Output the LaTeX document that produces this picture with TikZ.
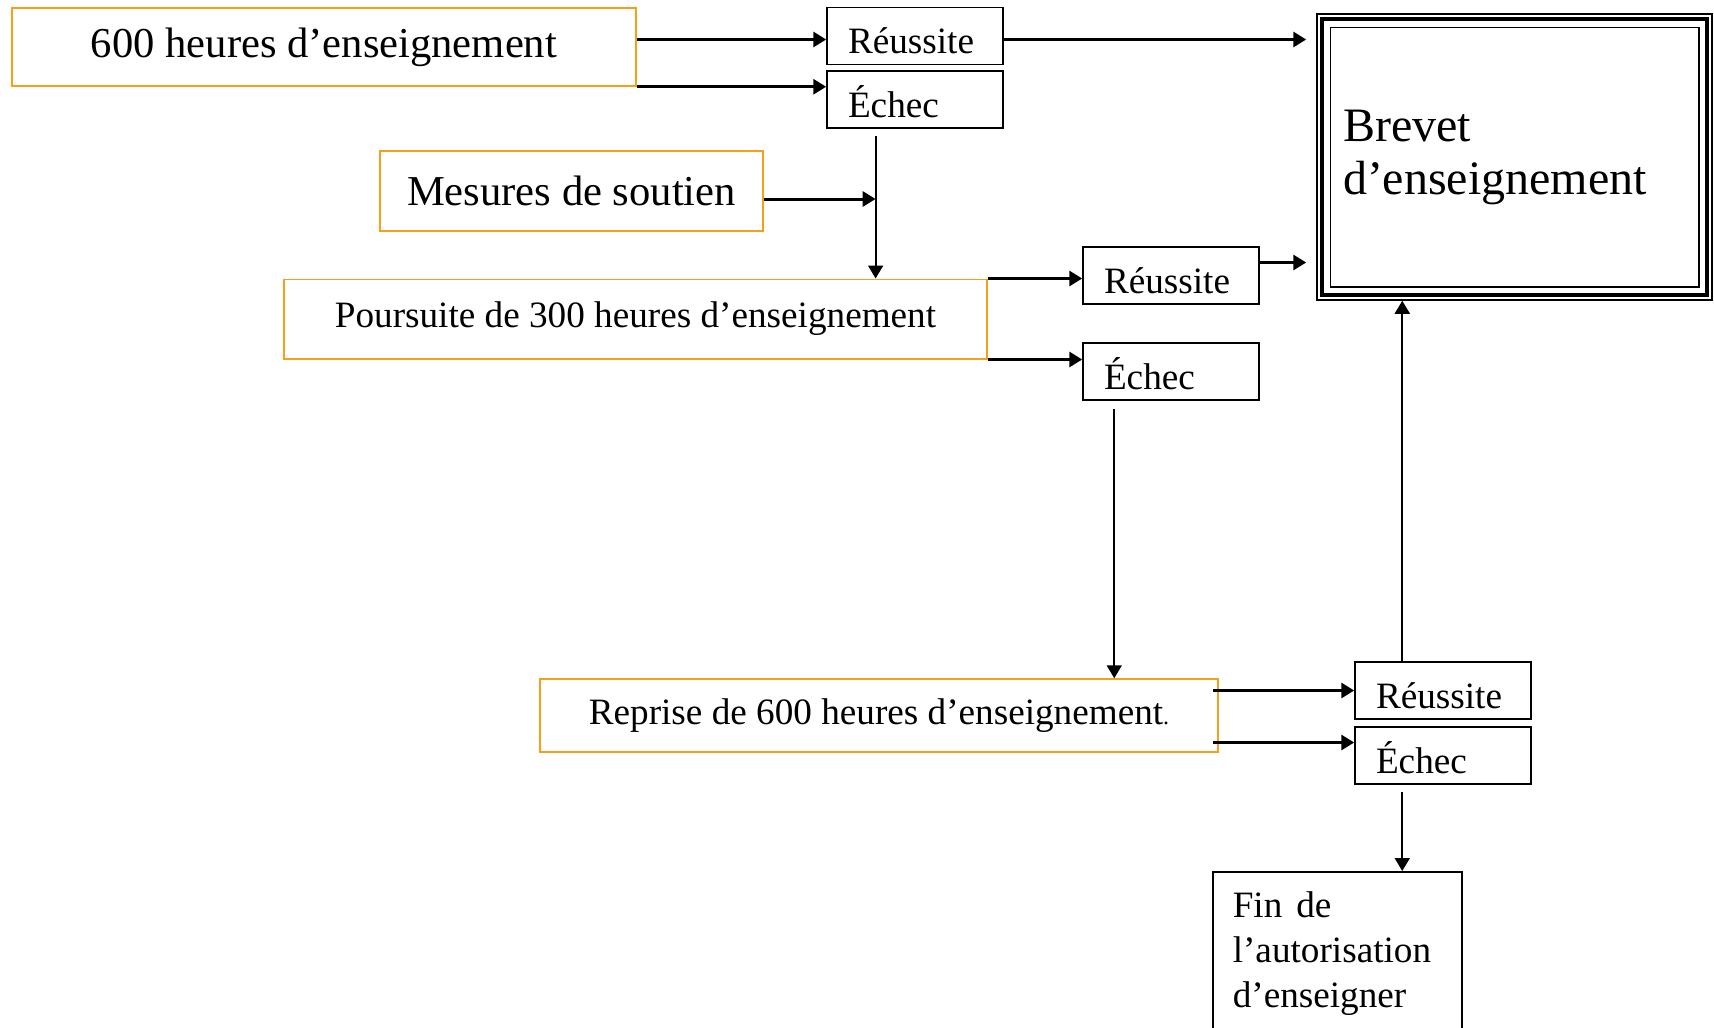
\documentclass[tikz,border=0pt]{standalone}
\usepackage{fontspec}
\setmainfont{Liberation Serif}
\usetikzlibrary{arrows.meta}
\definecolor{orangecadre}{RGB}{247,158,28}

\begin{document}
\begin{tikzpicture}[x=0.5pt, y=-0.5pt,
    >={Triangle[length=6.5pt,width=7.5pt]},
    cadre/.style={draw=orangecadre, line width=0.75pt, inner sep=0pt, font=\fontsize{18.6}{22.5}\selectfont},
    grand/.style={font=\fontsize{21.3}{25}\selectfont},
    issue/.style={draw, line width=0.75pt, minimum width=88pt, minimum height=28.5pt, text width=67pt,
      inner xsep=10.5pt, inner ysep=0pt, align=left, text height=17.5pt, text depth=0pt,
      font=\fontsize{18.6}{22.5}\selectfont},
    fleche/.style={->, line width=1.5pt},
    trait/.style={->, line width=0.9pt}]
      \useasboundingbox (0,0) rectangle (1714,1028);

      \node[cadre, grand, minimum width=312pt, minimum height=39pt] (heures600) at (324,47) {600 heures d’enseignement};
      \node[issue] (reussite1) at (915,36) {Réussite};
      \node[issue] (echec1) at (915,99.5) {Échec};
      \node[cadre, grand, minimum width=191.5pt, minimum height=40pt] (soutien) at (571.5,191) {Mesures de soutien};
      \node[cadre, minimum width=351.5pt, minimum height=39.75pt] (poursuite) at (635.5,319) {Poursuite de 300 heures d’enseignement};
      \node[issue] (reussite2) at (1171,275.5) {Réussite};
      \node[issue] (echec2) at (1171,371.5) {Échec};
      \node[cadre, minimum width=339pt, minimum height=36.5pt] (reprise) at (879,715.5) {Reprise de 600 heures d’enseignement{\fontsize{12}{12}\selectfont.}};
      \node[issue] (reussite3) at (1443,690.5) {Réussite};
      \node[issue] (echec3) at (1443,755.5) {Échec};
      \node[draw, line width=0.75pt, minimum width=197.5pt, minimum height=143pt, text width=171.5pt,
        inner xsep=13pt, align=left, font=\fontsize{24}{26.5}\selectfont] (brevet) at (1514.5,157) {Brevet\\d’enseignement};
      \node[draw, line width=0.75pt, anchor=north west, text width=104.5pt, inner xsep=10pt, inner ysep=10pt,
        align=left, font=\fontsize{18.6}{22.5}\selectfont] (fin) at (1212,871) {Fin\hspace{7pt}de\\l’autorisation\\d’enseigner};

      % bordure triple du brevet
      \draw[line width=2pt] ([shift={(6,6)}]brevet.north west) rectangle ([shift={(-6,-6)}]brevet.south east);
      \draw[line width=0.75pt] ([shift={(14,14)}]brevet.north west) rectangle ([shift={(-14,-14)}]brevet.south east);

      \coordinate (r1in) at ([yshift=-1.75pt]reussite1.west);
      \coordinate (e1out) at ([xshift=-19.7pt]echec1.south);
      \coordinate (s1) at ([yshift=-4pt]soutien.east);
      \coordinate (r2out) at ([yshift=6.5pt]reussite2.east);
      \coordinate (e2out) at ([xshift=16pt]echec2.south west);
      \coordinate (e3in) at ([yshift=6.5pt]echec3.west);
      \coordinate (r3out) at ([xshift=24pt]reussite3.north west);
      \coordinate (e3out) at ([xshift=24pt]echec3.south west);

      \draw[fleche] (r1in -| heures600.east) -- (r1in);
      \draw[fleche] (heures600.south east) -- (heures600.south east -| echec1.west);
      \draw[fleche, shorten >=5pt] (r1in -| reussite1.east) -- (r1in -| brevet.west);
      \draw[trait, shorten <=3.75pt] (e1out) -- (e1out |- poursuite.north);
      \draw[fleche] (s1) -- (s1 -| e1out);
      \draw[fleche] (poursuite.north east) -- (poursuite.north east -| reussite2.west);
      \draw[fleche] (poursuite.south east) -- (poursuite.south east -| echec2.west);
      \draw[fleche, shorten >=5pt] (r2out) -- (r2out -| brevet.west);
      \draw[trait, shorten <=4pt] (e2out) -- (e2out |- reprise.north);
      \draw[fleche] ([xshift=-3pt]reprise.east |- reussite3.west) -- (reussite3.west);
      \draw[fleche] ([xshift=-3pt]e3in -| reprise.east) -- (e3in);
      \draw[trait] (r3out) -- (r3out |- brevet.south);
      \draw[trait, shorten <=3.5pt] (e3out) -- (e3out |- fin.north);
    \end{tikzpicture}
\end{document}
